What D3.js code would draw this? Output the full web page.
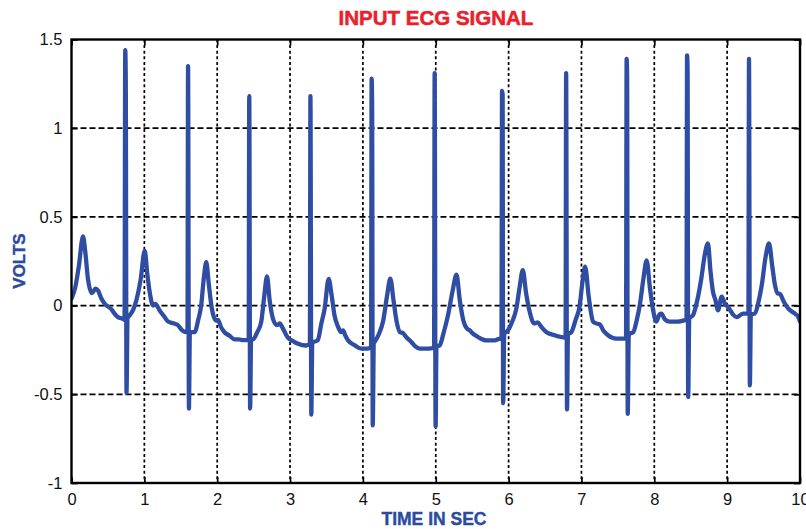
<!DOCTYPE html>
<html>
<head>
<meta charset="utf-8">
<script src="https://cdn.jsdelivr.net/npm/d3@7/dist/d3.min.js"></script>
<style>
  html, body { margin: 0; padding: 0; background: #ffffff; }
  svg { display: block; }
</style>
</head>
<body>
<svg id="chart" width="806" height="529"></svg>
<script>
// ---- data ----
const titleText = "INPUT ECG SIGNAL";
const xLabelText = "TIME IN SEC";
const yLabelText = "VOLTS";
const xTicks = [0, 1, 2, 3, 4, 5, 6, 7, 8, 9, 10];
const yTicks = [-1, -0.5, 0, 0.5, 1, 1.5];
const yTickLabels = ["-1", "-0.5", "0", "0.5", "1", "1.5"];

// time (s) and voltage (V) of the ECG trace
const ecgTime = [
  0, 0.05, 0.10, 0.158, 0.19, 0.226, 0.28, 0.33, 0.364, 0.41, 0.456, 0.546, 0.60, 0.638, 0.707,
  0.728, 0.738, 0.745, 0.755, 0.77,
  0.80, 0.85, 0.89, 0.95, 1.005, 1.04, 1.073, 1.12, 1.15, 1.21, 1.27, 1.325, 1.40, 1.46, 1.52, 1.576,
  1.592, 1.600, 1.612, 1.625,
  1.69, 1.74, 1.78, 1.815, 1.85, 1.885, 1.92, 1.96, 1.99, 2.01, 2.05, 2.10, 2.17, 2.24, 2.30, 2.354, 2.40,
  2.432, 2.44, 2.452, 2.465,
  2.49, 2.55, 2.605, 2.645, 2.684, 2.72, 2.766, 2.82, 2.86, 2.89, 2.97, 3.04, 3.11, 3.22, 3.26,
  3.272, 3.28, 3.292, 3.305,
  3.38, 3.43, 3.475, 3.53, 3.57, 3.61, 3.66, 3.70, 3.727, 3.76, 3.795, 3.89, 3.98, 4.05, 4.10,
  4.112, 4.12, 4.127, 4.135, 4.15,
  4.16, 4.22, 4.276, 4.33, 4.376, 4.42, 4.46, 4.51, 4.55, 4.60, 4.665, 4.72, 4.78, 4.894, 4.96,
  4.977, 4.985, 4.998, 5.01,
  5.054, 5.11, 5.168, 5.23, 5.285, 5.33, 5.374, 5.43, 5.47, 5.49, 5.58, 5.694, 5.81, 5.88,
  5.902, 5.91, 5.918, 5.925, 5.94,
  5.99, 6.05, 6.106, 6.15, 6.195, 6.24, 6.29, 6.35, 6.40, 6.45, 6.52, 6.63, 6.72, 6.77,
  6.782, 6.79, 6.802, 6.815,
  6.86, 6.92, 6.976, 7.01, 7.05, 7.10, 7.16, 7.20, 7.25, 7.30, 7.365, 7.48, 7.594,
  7.612, 7.62, 7.627, 7.635, 7.65,
  7.71, 7.76, 7.80, 7.85, 7.895, 7.94, 7.98, 8.03, 8.07, 8.096, 8.15, 8.21, 8.325, 8.417,
  8.442, 8.45, 8.457, 8.465, 8.48,
  8.53, 8.59, 8.645, 8.69, 8.737, 8.77, 8.806, 8.84, 8.874, 8.925, 8.97, 9.016, 9.08, 9.13, 9.22, 9.28,
  9.292, 9.30, 9.312, 9.325,
  9.38, 9.43, 9.475, 9.53, 9.575, 9.62, 9.657, 9.69, 9.725, 9.78, 9.84, 9.93, 9.97, 10.0
];
const ecgVolts = [
  0.04, 0.10, 0.22, 0.39, 0.30, 0.15, 0.07, 0.095, 0.085, 0.04, 0.01, -0.02, -0.05, -0.065, -0.075,
  -0.08, 1.44, 1.27, -0.49, -0.07,
  -0.055, -0.02, 0.03, 0.15, 0.31, 0.18, 0.077, 0.0, 0.01, -0.027, -0.06, -0.09, -0.10, -0.11, -0.14, -0.15,
  -0.15, 1.35, -0.58, -0.15,
  -0.15, -0.08, 0.0, 0.15, 0.245, 0.12, 0.0, -0.07, -0.085, -0.08, -0.12, -0.15, -0.17, -0.19, -0.19, -0.195, -0.195,
  -0.195, 1.18, -0.58, -0.19,
  -0.19, -0.15, -0.09, 0.05, 0.165, 0.03, -0.075, -0.11, -0.10, -0.12, -0.18, -0.20, -0.215, -0.225, -0.22,
  -0.22, 1.18, -0.615, -0.21,
  -0.195, -0.10, -0.017, 0.15, 0.06, -0.055, -0.12, -0.15, -0.14, -0.17, -0.195, -0.224, -0.243, -0.243, -0.24,
  -0.24, 1.28, 1.12, -0.675, -0.21,
  -0.205, -0.16, -0.09, 0.05, 0.152, 0.03, -0.083, -0.15, -0.155, -0.18, -0.205, -0.23, -0.243, -0.243, -0.24,
  -0.24, 1.31, -0.68, -0.23,
  -0.224, -0.15, -0.055, 0.08, 0.175, 0.03, -0.075, -0.13, -0.14, -0.15, -0.177, -0.196, -0.196, -0.186,
  -0.19, 1.21, 1.19, -0.55, -0.16,
  -0.14, -0.09, -0.017, 0.10, 0.20, 0.07, -0.036, -0.10, -0.095, -0.12, -0.15, -0.167, -0.177, -0.18,
  -0.18, 1.31, -0.585, -0.16,
  -0.15, -0.08, 0.0, 0.12, 0.22, 0.05, -0.09, -0.10, -0.105, -0.14, -0.167, -0.186, -0.186,
  -0.186, 1.39, 1.30, -0.61, -0.16,
  -0.15, -0.08, 0.0, 0.15, 0.255, 0.10, -0.017, -0.09, -0.05, -0.045, -0.08, -0.09, -0.09, -0.083,
  -0.08, 1.41, 1.33, -0.515, -0.07,
  -0.055, 0.03, 0.152, 0.28, 0.35, 0.20, 0.077, 0.03, -0.027, 0.05, 0.01, -0.01, -0.05, -0.065, -0.045, -0.045,
  -0.045, 1.39, -0.45, -0.05,
  -0.045, 0.02, 0.115, 0.28, 0.35, 0.22, 0.115, 0.07, 0.065, 0.02, -0.017, -0.045, -0.06, -0.09
];

// ---- layout ----
const W = 806, H = 529;
const plot = { left: 71.5, right: 800, top: 39.5, bottom: 483 };
const lineColor = "#2f4ea3";
const labelBlue = "#2b4aa0";
const titleRed = "#e8212b";
const tickFont = "'Liberation Sans', Arial, sans-serif";

const svg = d3.select("#chart");

const x = d3.scaleLinear().domain([0, 10]).range([plot.left, plot.right]);
const y = d3.scaleLinear().domain([-1, 1.5]).range([plot.bottom, plot.top]);

// grid
const grid = svg.append("g");
grid.selectAll("line.vg").data(xTicks.filter(d => d > 0 && d < 10)).enter()
  .append("line").attr("class", "vg")
  .attr("x1", d => x(d)).attr("x2", d => x(d))
  .attr("y1", plot.top).attr("y2", plot.bottom)
  .attr("stroke", "#000").attr("stroke-width", 1.7)
  .attr("stroke-dasharray", "3,2.6");
grid.selectAll("line.hg").data(yTicks.filter(d => d > -1 && d < 1.5)).enter()
  .append("line").attr("class", "hg")
  .attr("x1", plot.left).attr("x2", plot.right)
  .attr("y1", d => y(d)).attr("y2", d => y(d))
  .attr("stroke", "#000").attr("stroke-width", 1.7)
  .attr("stroke-dasharray", "6,3");

// signal
svg.append("clipPath").attr("id", "clip").append("rect")
  .attr("x", plot.left).attr("y", plot.top)
  .attr("width", plot.right - plot.left).attr("height", plot.bottom - plot.top);

const pts = ecgTime.map((t, i) => [t, ecgVolts[i]]);
const line = d3.line().curve(d3.curveMonotoneX).x(d => x(d[0])).y(d => y(d[1]));
svg.append("path")
  .datum(pts)
  .attr("clip-path", "url(#clip)")
  .attr("d", line)
  .attr("fill", "none")
  .attr("stroke", lineColor)
  .attr("stroke-width", 4.3)
  .attr("stroke-linejoin", "round")
  .attr("stroke-linecap", "round");

// axes (ticks inside on all sides)
const axB = d3.axisBottom(x).tickValues(xTicks).tickSize(-6).tickPadding(10).tickFormat(d3.format("d"));
const axT = d3.axisTop(x).tickValues(xTicks).tickSize(-6).tickFormat("");
const axL = d3.axisLeft(y).tickValues(yTicks).tickSize(-6).tickPadding(9)
  .tickFormat((d) => yTickLabels[yTicks.indexOf(d)]);
const axR = d3.axisRight(y).tickValues(yTicks).tickSize(-6).tickFormat("");

function styleAxis(g) {
  g.select(".domain").remove();
  g.selectAll(".tick line").attr("stroke", "#000").attr("stroke-width", 1.7);
  g.selectAll("text").attr("fill", "#111").attr("font-size", 16.5)
    .attr("font-family", tickFont);
}
svg.append("g").attr("transform", `translate(0,${plot.bottom})`).call(axB).call(styleAxis);
svg.append("g").attr("transform", `translate(0,${plot.top})`).call(axT).call(styleAxis);
svg.append("g").attr("transform", `translate(${plot.left},0)`).call(axL).call(styleAxis);
svg.append("g").attr("transform", `translate(${plot.right},0)`).call(axR).call(styleAxis);

// box
svg.append("rect")
  .attr("x", plot.left).attr("y", plot.top)
  .attr("width", plot.right - plot.left).attr("height", plot.bottom - plot.top)
  .attr("fill", "none").attr("stroke", "#000").attr("stroke-width", 2.4);

// title and labels
svg.append("text")
  .attr("x", 436).attr("y", 25)
  .attr("text-anchor", "middle")
  .attr("font-family", tickFont).attr("font-weight", "bold")
  .attr("font-size", 20.5).attr("fill", titleRed)
  .attr("stroke", titleRed).attr("stroke-width", 0.5)
  .text(titleText);

svg.append("text")
  .attr("x", 434).attr("y", 525)
  .attr("text-anchor", "middle")
  .attr("font-family", tickFont).attr("font-weight", "bold")
  .attr("font-size", 17.5).attr("fill", labelBlue)
  .attr("stroke", labelBlue).attr("stroke-width", 0.4)
  .text(xLabelText);

svg.append("text")
  .attr("transform", "translate(25,261) rotate(-90)")
  .attr("text-anchor", "middle")
  .attr("font-family", tickFont).attr("font-weight", "bold")
  .attr("font-size", 17).attr("fill", labelBlue)
  .attr("stroke", labelBlue).attr("stroke-width", 0.4)
  .text(yLabelText);
</script>
</body>
</html>
